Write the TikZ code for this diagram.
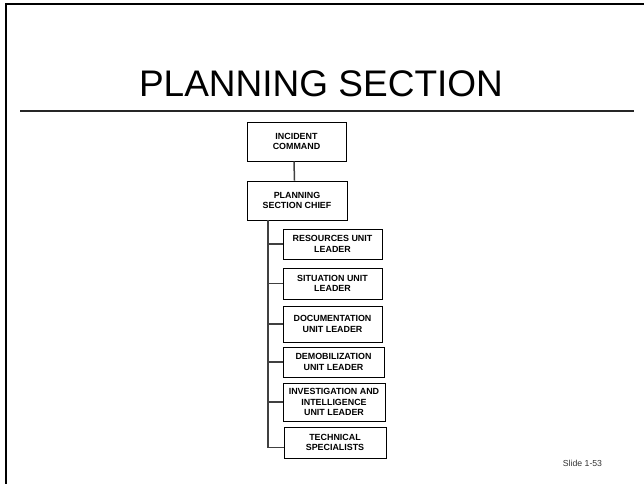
\documentclass[tikz,border=0pt]{standalone}
\usepackage{fontspec}
\setmainfont{Liberation Sans}
\begin{document}
\begin{tikzpicture}[x=1pt,y=-1pt,
  orgbox/.style={draw=black,line width=0.9pt,fill=white,inner sep=0pt,
    align=center,font=\bfseries\fontsize{8.9}{10.7}\selectfont},
  link/.style={draw=black!75,line width=1.5pt},
  frameline/.style={line width=2pt,line cap=rect}]
\useasboundingbox (0,0) rectangle (644,483);

% slide frame and title rule
\draw[frameline] (6,490) -- (6,4) -- (650,4);
\draw[line width=1.4pt,black!85] (20,111) -- (634,111);

% title
\node[font=\fontsize{37}{40}\selectfont,anchor=base] (title) at (321,96) {PLANNING SECTION};

% command boxes
\node[orgbox,minimum width=99pt,minimum height=39pt] (ic) at (296.5,141.5) {INCIDENT\\COMMAND};
\node[orgbox,minimum width=100pt,minimum height=39pt] (chief) at (297,200.5) {PLANNING\\SECTION CHIEF};

% unit boxes
\node[orgbox,minimum width=99pt,minimum height=30pt] (res) at (332.5,244) {RESOURCES UNIT\\LEADER};
\node[orgbox,minimum width=99pt,minimum height=31pt] (sit) at (332.5,283.5) {SITUATION UNIT\\LEADER};
\node[orgbox,minimum width=99pt,minimum height=36pt] (doc) at (332.5,324) {DOCUMENTATION\\UNIT LEADER};
\node[orgbox,minimum width=101pt,minimum height=30pt] (demob) at (333.5,362) {DEMOBILIZATION\\UNIT LEADER};
\node[orgbox,minimum width=102pt,minimum height=38pt] (inv) at (334,402) {INVESTIGATION AND\\INTELLIGENCE\\UNIT LEADER};
\node[orgbox,minimum width=102pt,minimum height=31pt] (tech) at (335,442.5) {TECHNICAL\\SPECIALISTS};

% connectors
\coordinate (trunk) at ([xshift=-29pt]chief.south);
\draw[link] ([xshift=-2.5pt]ic.south) -- ([xshift=-2.5pt]chief.north);
\draw[link] (trunk) |- ([yshift=-5pt]tech.west);
\foreach \u in {res,sit,doc,demob,inv}
  \draw[link] (trunk |- \u.west) -- (\u.west);

% slide number
\node[font=\fontsize{8.7}{10}\selectfont,text=black!80] (slideno) at (582.5,463) {Slide 1-53};
\end{tikzpicture}
\end{document}
